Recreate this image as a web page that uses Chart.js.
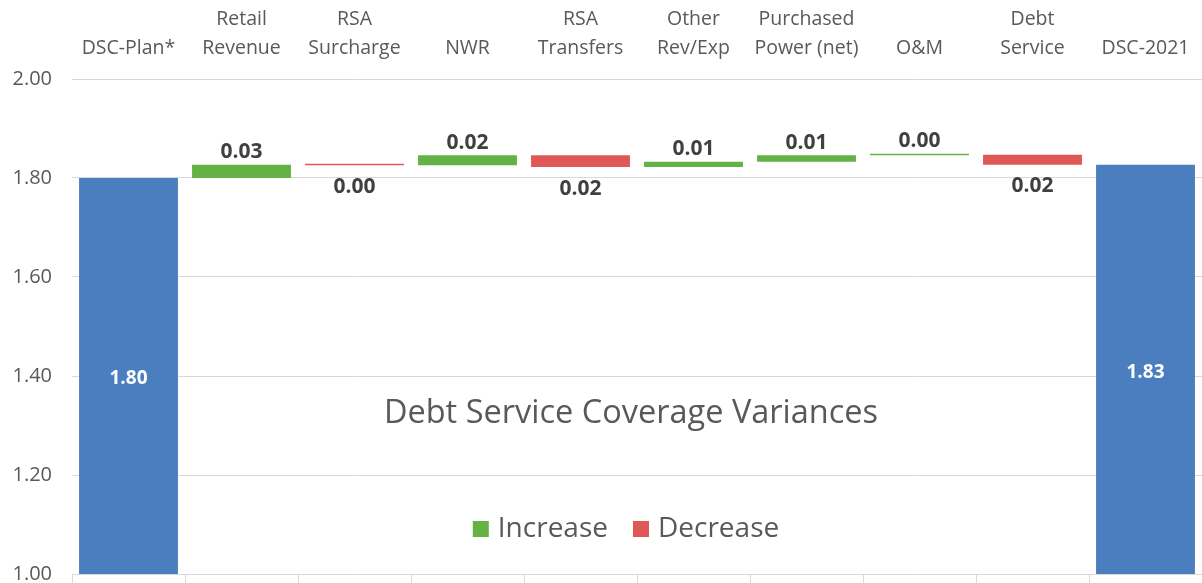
<!DOCTYPE html>
<html>
<head>
<meta charset="utf-8">
<script src="https://cdn.jsdelivr.net/npm/chart.js@4"></script>
<style>
  html, body { margin: 0; padding: 0; background: #fff; }
  #wrap { width: 1202px; height: 583px; }
</style>
</head>
<body>
<div id="wrap"><canvas id="chartDSC"></canvas></div>
<script>
// Debt service coverage waterfall
const categories = [['DSC-Plan*'], ['Retail', 'Revenue'], ['RSA', 'Surcharge'], ['NWR'], ['RSA', 'Transfers'],
  ['Other', 'Rev/Exp'], ['Purchased', 'Power (net)'], ['O&M'], ['Debt', 'Service'], ['DSC-2021']];
const dscPlan = 1.80;
const variances = [0.027, -0.001, 0.020, -0.024, 0.011, 0.013, 0.001, -0.020];
const yTicks = { min: 1.0, max: 2.0, step: 0.2 };
const legendLabels = ['Increase', 'Decrease'];
const chartTitle = 'Debt Service Coverage Variances';

const FONT = "'Open Sans', 'Noto Sans', sans-serif";
const BLUE = '#4a7ebf', GREEN = '#63b246', RED = '#e05757';

// running totals -> floating bars
let run = dscPlan;
const totals = [[yTicks.min, dscPlan]], ups = [null], downs = [null];
variances.forEach(v => {
  const from = run, to = run + v;
  ups.push(v >= 0 ? [from, to] : null);
  downs.push(v < 0 ? [to, from] : null);
  totals.push(null);
  run = to;
});
totals.push([yTicks.min, run]); ups.push(null); downs.push(null);

const labelPlugin = {
  id: 'wfLabels',
  afterDatasetsDraw(chart) {
    const ctx = chart.ctx;
    ctx.save();
    ctx.textAlign = 'center';
    chart.data.datasets.forEach((ds, di) => {
      const meta = chart.getDatasetMeta(di);
      meta.data.forEach((bar, i) => {
        const raw = ds.data[i];
        if (raw == null) return;
        const top = Math.min(bar.y, bar.base), bot = Math.max(bar.y, bar.base);
        if (di === 0) {
          ctx.font = `bold 19px ${FONT}`;
          ctx.fillStyle = '#fff';
          ctx.textBaseline = 'middle';
          ctx.fillText(raw[1].toFixed(2), bar.x, (top + bot) / 2 + 3);
        } else {
          const val = Math.abs(variances[i - 1]).toFixed(2);
          ctx.font = `bold 21px ${FONT}`;
          ctx.fillStyle = '#404040';
          if (di === 1) { ctx.textBaseline = 'bottom'; ctx.fillText(val, bar.x, top - 2); }
          else { ctx.textBaseline = 'top'; ctx.fillText(val, bar.x, bot + 11); }
        }
      });
    });
    ctx.restore();
  },
  afterDraw(chart) {
    const ctx = chart.ctx, a = chart.chartArea;
    const cx = (a.left + a.right) / 2;
    ctx.save();
    ctx.fillStyle = '#595959';
    ctx.font = `32.5px ${FONT}`;
    ctx.textAlign = 'center';
    ctx.textBaseline = 'middle';
    ctx.fillText(chartTitle, cx - 6, 414);
    // legend
    ctx.font = `28px ${FONT}`;
    const box = 16, gap = 9, spacing = 25;
    const widths = legendLabels.map(t => ctx.measureText(t).width);
    const total = widths.reduce((s, w) => s + box + gap + w, 0) + spacing;
    let x = cx - 11 - total / 2;
    const y = 529;
    ctx.textAlign = 'left';
    legendLabels.forEach((t, i) => {
      ctx.fillStyle = i === 0 ? GREEN : RED;
      ctx.fillRect(x, y - box / 2, box, box);
      ctx.fillStyle = '#595959';
      ctx.fillText(t, x + box + gap, y);
      x += box + gap + widths[i] + spacing;
    });
    ctx.restore();
  }
};

const barOpts = { barPercentage: 0.875, categoryPercentage: 1, borderWidth: 0, minBarLength: 1.5 };
const noPad = s => { s.paddingTop = 0; s.paddingBottom = 0; s.paddingLeft = 0; s.paddingRight = 0; };

new Chart(document.getElementById('chartDSC'), {
  type: 'bar',
  data: {
    labels: categories,
    datasets: [
      { label: 'Total', data: totals, backgroundColor: BLUE, ...barOpts },
      { label: legendLabels[0], data: ups, backgroundColor: GREEN, ...barOpts },
      { label: legendLabels[1], data: downs, backgroundColor: RED, ...barOpts }
    ]
  },
  options: {
    responsive: true, maintainAspectRatio: false, animation: false,
    layout: { padding: 0 },
    plugins: { legend: { display: false }, tooltip: { enabled: false } },
    scales: {
      x: {
        position: 'top', stacked: true,
        grid: { display: false }, border: { display: false },
        ticks: { color: '#595959', padding: 9, maxRotation: 0, autoSkip: false,
          font: { family: FONT, size: 19.5, lineHeight: 1.44 } },
        afterFit(s) { s.height = 79; noPad(s); }
      },
      x2: {
        type: 'category', labels: categories, position: 'bottom', offset: true,
        grid: { offset: true, drawOnChartArea: false, tickLength: 9, color: '#d9d9d9' },
        border: { display: false },
        ticks: { display: false },
        afterFit(s) { s.height = 9; noPad(s); }
      },
      y: {
        min: yTicks.min, max: yTicks.max,
        grid: { color: '#d9d9d9', drawTicks: false },
        border: { display: false },
        ticks: { stepSize: yTicks.step, color: '#595959', padding: 20,
          font: { family: FONT, size: 20 }, callback: v => v.toFixed(2) },
        afterFit(s) { s.width = 72; noPad(s); }
      }
    }
  },
  plugins: [labelPlugin]
});
</script>
</body>
</html>
